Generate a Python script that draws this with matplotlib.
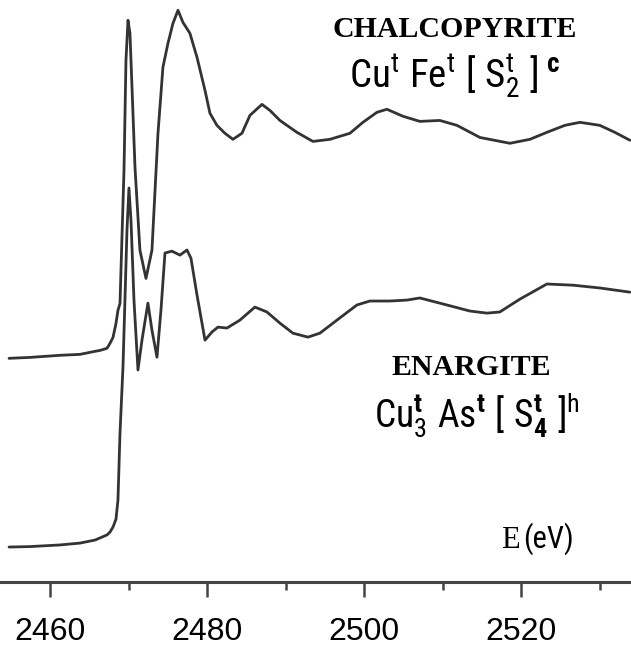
import matplotlib
matplotlib.use("Agg")
import matplotlib.pyplot as plt
from matplotlib import font_manager
from matplotlib.ticker import MultipleLocator
import numpy as np

# S K-edge XANES (normalised absorbance)
chalco_energy = [2454.75, 2457.42, 2461.24, 2463.79, 2465.70, 2466.34, 2467.23, 2467.61,
                 2468.00, 2468.38, 2468.63, 2468.89, 2469.14, 2469.40, 2469.65, 2469.91,
                 2470.16, 2470.80, 2471.43, 2472.20, 2472.96, 2473.73, 2474.36, 2475.00,
                 2475.64, 2476.28, 2476.91, 2477.80, 2478.70, 2479.72, 2480.35, 2481.24,
                 2482.26, 2483.28, 2484.43, 2485.45, 2486.98, 2488.00, 2489.27, 2491.43,
                 2493.47, 2495.64, 2498.19, 2499.84, 2501.63, 2502.90, 2504.94, 2507.10,
                 2509.65, 2511.82, 2514.75, 2518.57, 2521.12, 2523.28, 2525.58, 2527.49,
                 2530.03, 2531.94, 2533.86]
chalco_mu = [0.000, 0.004, 0.013, 0.017, 0.030, 0.034, 0.043, 0.064,
             0.090, 0.150, 0.206, 0.236, 0.519, 0.807, 1.279, 1.451,
             1.395, 0.820, 0.464, 0.343, 0.464, 0.966, 1.249, 1.352,
             1.438, 1.494, 1.442, 1.395, 1.292, 1.150, 1.052, 1.000,
             0.966, 0.940, 0.966, 1.043, 1.090, 1.064, 1.021, 0.970,
             0.931, 0.940, 0.966, 1.013, 1.056, 1.069, 1.039, 1.017,
             1.021, 1.000, 0.948, 0.923, 0.940, 0.970, 1.000, 1.013,
             1.000, 0.970, 0.936]

enarg_energy = [2454.75, 2457.42, 2461.24, 2463.79, 2465.70, 2466.34, 2467.23, 2467.61,
                2468.00, 2468.38, 2468.63, 2468.89, 2469.27, 2469.52, 2469.78, 2470.03,
                2470.29, 2470.67, 2471.18, 2471.69, 2472.45, 2472.96, 2473.60, 2474.11,
                2474.62, 2475.51, 2476.53, 2477.42, 2477.93, 2478.70, 2479.72, 2480.61,
                2481.37, 2482.52, 2484.17, 2486.08, 2487.61, 2489.27, 2490.92, 2492.84,
                2494.36, 2496.53, 2499.08, 2500.73, 2503.28, 2505.45, 2507.10, 2510.54,
                2513.47, 2515.64, 2517.29, 2519.84, 2523.28, 2526.59, 2530.03, 2533.86]
enarg_mu = [0.000, 0.002, 0.009, 0.017, 0.030, 0.039, 0.052, 0.064,
            0.086, 0.120, 0.202, 0.489, 0.773, 1.060, 1.361, 1.541,
            1.403, 1.060, 0.760, 0.888, 1.047, 0.931, 0.815, 1.017,
            1.262, 1.270, 1.253, 1.275, 1.240, 1.082, 0.888, 0.923,
            0.944, 0.940, 0.974, 1.030, 1.009, 0.961, 0.918, 0.901,
            0.918, 0.974, 1.039, 1.056, 1.056, 1.060, 1.069, 1.039,
            1.013, 1.004, 1.009, 1.064, 1.129, 1.124, 1.112, 1.094]

CHALCO_OFFSET = 0.81
W, H = 631, 648


def pick_font(names, fallback):
    have = {f.name for f in font_manager.fontManager.ttflist}
    for n in names:
        if n in have:
            return n
    return fallback


narrow = pick_font(["Liberation Sans Narrow", "DejaVu Sans Condensed", "Roboto Condensed"],
                   "Liberation Sans")
plt.rcParams["mathtext.fontset"] = "custom"
plt.rcParams["mathtext.rm"] = narrow
plt.rcParams["mathtext.it"] = narrow
plt.rcParams["mathtext.bf"] = f"{narrow}:bold"


def px(x, y):
    return x / W, 1 - y / H


fig = plt.figure(figsize=(W / 100, H / 100), dpi=100)
ax = fig.add_axes([0, 66 / H, 1, 582 / H])

line_kw = dict(color="#333333", lw=2.0, solid_joinstyle="round", solid_capstyle="round")
ax.plot(chalco_energy, np.array(chalco_mu) + CHALCO_OFFSET, **line_kw)
ax.plot(enarg_energy, enarg_mu, **line_kw)

ax.set_xlim(2453.6, 2534.0)
ax.set_ylim(-0.150, 2.348)
for s in ("top", "left", "right"):
    ax.spines[s].set_visible(False)
ax.spines["bottom"].set_color("#444444")
ax.spines["bottom"].set_linewidth(2.2)
ax.set_yticks([])
ax.xaxis.set_major_locator(MultipleLocator(20))
ax.xaxis.set_minor_locator(MultipleLocator(10))
ax.tick_params(axis="x", which="major", length=11, width=1.8, color="#444444",
               pad=14, labelsize=23)
ax.tick_params(axis="x", which="minor", length=6, width=1.8, color="#444444")
for lab in ax.get_xticklabels():
    lab.set_fontfamily("Liberation Sans")

# labels
fig.text(*px(455, 37), "CHALCOPYRITE", ha="center", va="baseline",
         family="Liberation Serif", weight="bold", fontsize=21.5)
fig.text(*px(455, 88), r"$\mathrm{Cu^{t}\ Fe^{t}\ [\ S^{t}_{2}\ ]}^{\ \mathbf{c}}$",
         ha="center", va="baseline", fontsize=28)
fig.text(*px(471, 375), "ENARGITE", ha="center", va="baseline",
         family="Liberation Serif", weight="bold", fontsize=21.5)
fig.text(*px(477, 428), r"$\mathrm{Cu^{\mathbf{t}}_{3}\ As^{\mathbf{t}}\ [\ S^{\mathbf{t}}_{\mathbf{4}}\ ]^{h}}$",
         ha="center", va="baseline", fontsize=27)
fig.text(*px(501, 548), "E", ha="left", va="baseline",
         family="Liberation Serif", fontsize=22)
fig.text(*px(523, 548), "(eV)", ha="left", va="baseline",
         family=narrow, fontsize=22)

fig.savefig("out.png", dpi=100)
